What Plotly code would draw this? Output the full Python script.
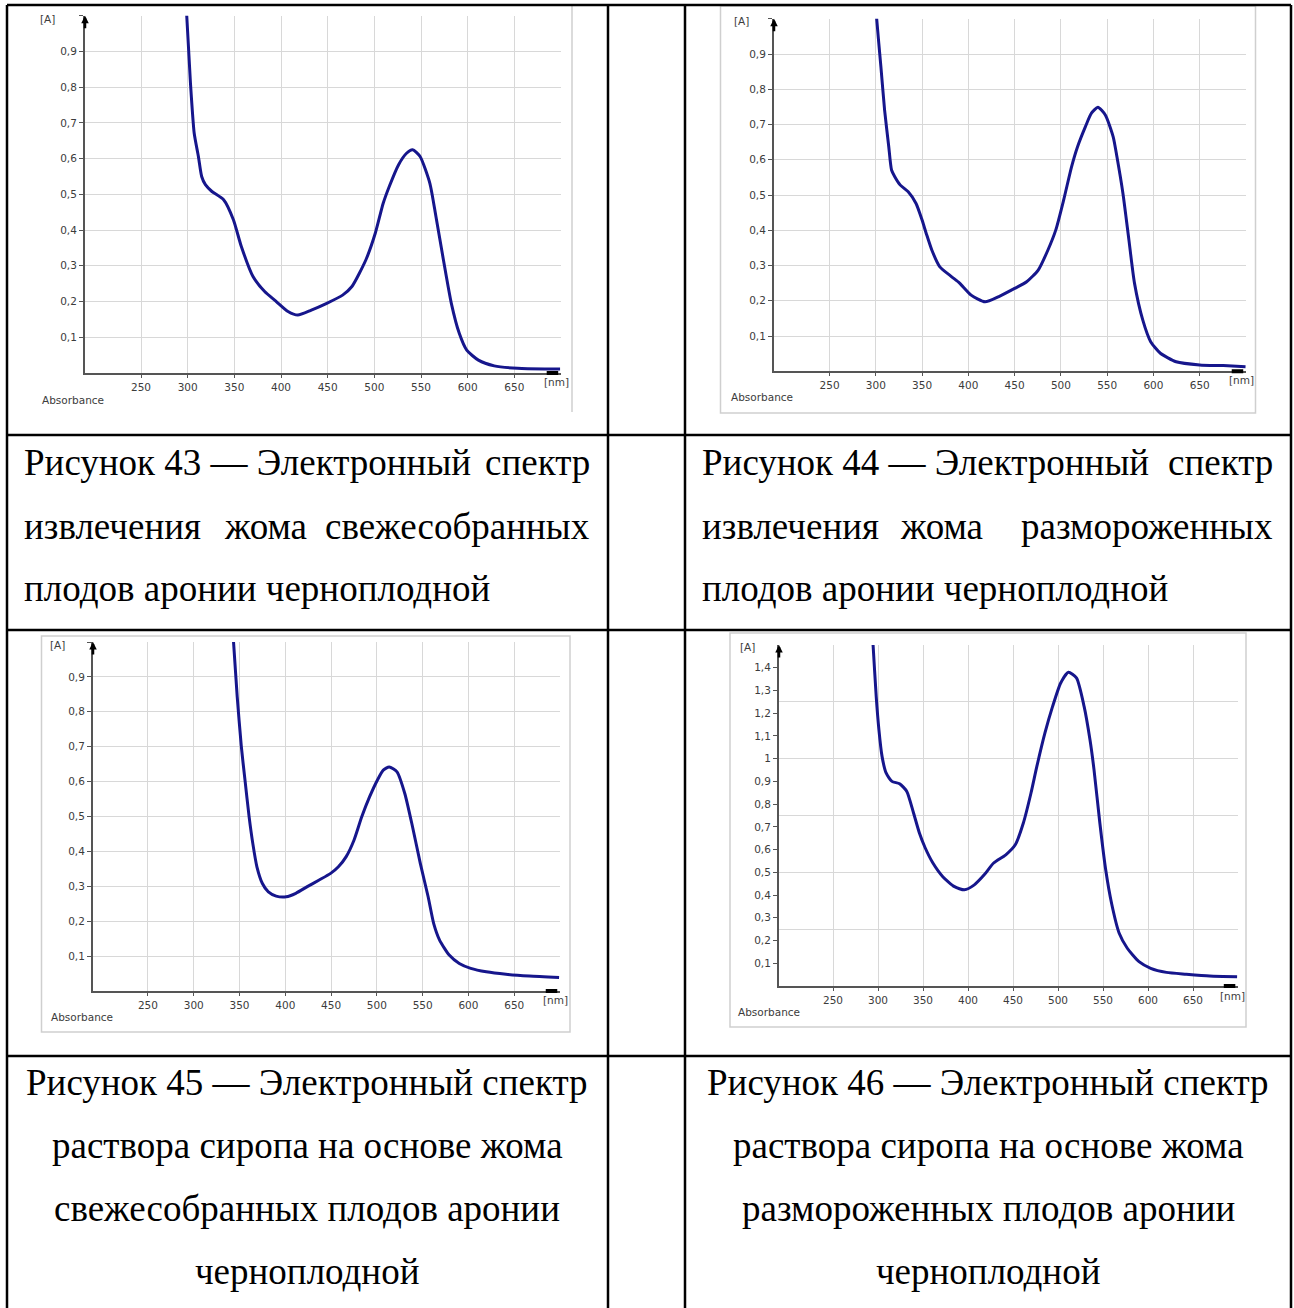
import plotly.graph_objects as go

W, H = 1294, 1308

# ---------------- data ----------------
wl_43 = [296, 299, 303, 307, 311.5, 315, 319, 326, 338.5, 349, 357.5, 370, 382.5, 395, 407.5, 418,
         432.5, 449, 466, 476, 491, 501, 509.5, 516, 526, 534.5, 541, 549, 559.5, 566, 574, 582.5,
         591, 599, 611.5, 628.5, 653.5, 682.5, 699]
abs_43 = [1.1, 1.0, 0.811, 0.671, 0.606, 0.55, 0.527, 0.508, 0.485, 0.429, 0.354, 0.27, 0.228, 0.2,
          0.172, 0.162, 0.176, 0.195, 0.218, 0.242, 0.317, 0.391, 0.475, 0.522, 0.583, 0.615, 0.625,
          0.606, 0.531, 0.438, 0.317, 0.195, 0.111, 0.064, 0.036, 0.02, 0.013, 0.011, 0.011]

wl_44 = [299, 301, 305.5, 309.5, 314, 317, 320.5, 326.5, 335, 343.5, 350, 354.5, 360.5, 369, 382,
         390.5, 403, 418, 433, 450, 463, 475.5, 486, 494.5, 503, 511.5, 518, 526.5, 533, 540, 548,
         556.5, 560.5, 567, 573.5, 579.5, 588.5, 597, 607.5, 624.5, 650, 675.5, 699.5]
abs_44 = [1.08, 0.998, 0.864, 0.741, 0.637, 0.571, 0.552, 0.528, 0.509, 0.476, 0.429, 0.391, 0.344,
          0.297, 0.268, 0.25, 0.216, 0.197, 0.212, 0.235, 0.254, 0.287, 0.344, 0.401, 0.486, 0.58,
          0.637, 0.694, 0.732, 0.749, 0.727, 0.665, 0.609, 0.505, 0.372, 0.25, 0.145, 0.084, 0.051,
          0.027, 0.018, 0.016, 0.013]

wl_45 = [341, 343.5, 347.5, 352, 356, 360.5, 364.5, 369, 375, 381.5, 390, 401, 411.5, 424, 437,
         449.5, 458, 466.5, 475, 483.5, 492, 500.5, 507, 513.5, 522, 530.5, 539, 547.5, 556, 562,
         568.5, 579, 590, 602.5, 619.5, 641, 666.5, 699]
abs_45 = [1.08, 0.999, 0.843, 0.70, 0.604, 0.499, 0.423, 0.356, 0.308, 0.284, 0.272, 0.27, 0.28,
          0.299, 0.318, 0.337, 0.356, 0.385, 0.432, 0.499, 0.556, 0.604, 0.633, 0.642, 0.628, 0.566,
          0.47, 0.365, 0.27, 0.194, 0.146, 0.103, 0.079, 0.065, 0.055, 0.048, 0.043, 0.039]

wl_46 = [293, 294.5, 298, 301, 304.5, 309, 315.5, 324, 332, 339.5, 346, 352.5, 361, 372, 385, 396,
         407, 418, 428.5, 442, 452.5, 461.5, 470, 476.5, 485.5, 494, 503, 511.5, 520.5, 529, 535.5,
         540, 546.5, 553, 559.5, 568, 577, 590, 603, 620.5, 642.5, 668.5, 699]
abs_46 = [1.6, 1.502, 1.274, 1.128, 1.01, 0.937, 0.90, 0.89, 0.856, 0.761, 0.673, 0.607, 0.541,
          0.481, 0.437, 0.423, 0.445, 0.489, 0.541, 0.577, 0.621, 0.717, 0.849, 0.966, 1.113, 1.23,
          1.333, 1.38, 1.355, 1.23, 1.084, 0.952, 0.717, 0.511, 0.364, 0.232, 0.166, 0.107, 0.078,
          0.06, 0.052, 0.044, 0.041]

x_ticks = [250, 300, 350, 400, 450, 500, 550, 600, 650]
x_tick_text = ["250", "300", "350", "400", "450", "500", "550", "600", "650"]
y_ticks = [0.1, 0.2, 0.3, 0.4, 0.5, 0.6, 0.7, 0.8, 0.9, 1.0]
y_tick_text = ["0,1", "0,2", "0,3", "0,4", "0,5", "0,6", "0,7", "0,8", "0,9", ""]
y_ticks_46 = [0.1, 0.2, 0.3, 0.4, 0.5, 0.6, 0.7, 0.8, 0.9, 1.0, 1.1, 1.2, 1.3, 1.4]
y_tick_text_46 = ["0,1", "0,2", "0,3", "0,4", "0,5", "0,6", "0,7", "0,8", "0,9", "1",
                  "1,1", "1,2", "1,3", "1,4"]
y_grid_46 = [0.25, 0.5, 0.75, 1.0, 1.25, 1.5]

captions_row1 = [
    ["Рисунок 43 — Электронный спектр", "извлечения жома свежесобранных", "плодов аронии черноплодной"],
    ["Рисунок 44 — Электронный спектр", "извлечения жома размороженных", "плодов аронии черноплодной"],
]
captions_row2 = [
    ["Рисунок 45 — Электронный спектр", "раствора сиропа на основе жома",
     "свежесобранных плодов аронии", "черноплодной"],
    ["Рисунок 46 — Электронный спектр", "раствора сиропа на основе жома",
     "размороженных плодов аронии", "черноплодной"],
]

# ---------------- helpers ----------------
def fx(p):
    return p / W


def fy(p):
    return 1 - p / H


LINE_COLOR = "#16168c"
AX_COLOR = "#555555"
GRID = "#d8d8d8"
TICK_FONT = dict(family="DejaVu Sans", size=10.5, color="#3c3c3c")
CAP_FONT = dict(family="Liberation Serif", size=37, color="black")

panels = [
    dict(wl=wl_43, a=abs_43, dx=(85, 561), dy=(15.7, 373), ymax=1.0,
         lab_a=(47, 19), lab_nm=(556, 382), lab_abs=(40, 400)),
    dict(wl=wl_44, a=abs_44, dx=(774, 1246), dy=(18.75, 371.25), ymax=1.0,
         lab_a=(741, 21), lab_nm=(1241, 380), lab_abs=(729, 397)),
    dict(wl=wl_45, a=abs_45, dx=(93, 560), dy=(642, 991), ymax=1.0,
         lab_a=(57, 645), lab_nm=(555, 1000), lab_abs=(49, 1017)),
    dict(wl=wl_46, a=abs_46, dx=(779, 1238), dy=(645, 986), ymax=1.5,
         lab_a=(748, 647), lab_nm=(1232, 996), lab_abs=(736, 1012)),
]

fig = go.Figure()
layout = dict(
    width=W, height=H, margin=dict(l=0, r=0, t=0, b=0),
    paper_bgcolor="white", plot_bgcolor="white", showlegend=False,
    separators=", ",
)
annotations = []
shapes = []

for i, p in enumerate(panels, start=1):
    sfx = "" if i == 1 else str(i)
    fig.add_trace(go.Scatter(
        x=p["wl"], y=p["a"], mode="lines",
        line=dict(color=LINE_COLOR, width=3, shape="spline", smoothing=0.6),
        xaxis="x" + sfx, yaxis="y" + sfx, hoverinfo="skip",
    ))
    is46 = (i == 4)
    layout["xaxis" + sfx] = dict(
        domain=[fx(p["dx"][0]), fx(p["dx"][1])], range=[190, 700], anchor="y" + sfx,
        tickmode="array", tickvals=x_ticks, ticktext=x_tick_text,
        showgrid=True, gridcolor=GRID, gridwidth=1, zeroline=False,
        showline=True, linecolor=AX_COLOR, linewidth=2,
        ticks="outside", ticklen=3, tickcolor=AX_COLOR, tickfont=TICK_FONT, fixedrange=True,
    )
    layout["yaxis" + sfx] = dict(
        domain=[fy(p["dy"][1]), fy(p["dy"][0])], range=[0, p["ymax"]], anchor="x" + sfx,
        tickmode="array",
        tickvals=y_ticks_46 if is46 else y_ticks,
        ticktext=y_tick_text_46 if is46 else y_tick_text,
        showgrid=not is46, gridcolor=GRID, gridwidth=1, zeroline=False,
        showline=True, linecolor=AX_COLOR, linewidth=2,
        ticks="outside", ticklen=4, tickcolor=AX_COLOR, tickfont=TICK_FONT, fixedrange=True,
    )
    # axis end markers
    annotations.append(dict(xref="x" + sfx, yref="y" + sfx, x=190, y=p["ymax"], ax=0, ay=14,
                            text="", showarrow=True, arrowhead=2, arrowsize=0.6, arrowwidth=2.5,
                            arrowcolor="black"))
    annotations.append(dict(xref="x" + sfx, yref="y" + sfx, x=697, y=0, ax=-13, ay=0,
                            text="", showarrow=True, arrowhead=0, arrowwidth=4,
                            arrowcolor="black"))
    # labels
    annotations.append(dict(xref="paper", yref="paper", x=fx(p["lab_a"][0]), y=fy(p["lab_a"][1]),
                            text="[A]", showarrow=False, xanchor="center", yanchor="middle",
                            font=TICK_FONT))
    annotations.append(dict(xref="paper", yref="paper", x=fx(p["lab_nm"][0]), y=fy(p["lab_nm"][1]),
                            text="[nm]", showarrow=False, xanchor="center", yanchor="middle",
                            font=TICK_FONT))
    annotations.append(dict(xref="paper", yref="paper", x=fx(p["lab_abs"][0]), y=fy(p["lab_abs"][1]),
                            text="Absorbance", showarrow=False, xanchor="left", yanchor="middle",
                            font=TICK_FONT))

# extra grid axis for figure 46 (gridlines every 0.25)
layout["yaxis5"] = dict(
    overlaying="y4", anchor="x4", range=[0, 1.5], tickmode="array", tickvals=y_grid_46,
    showgrid=True, gridcolor=GRID, gridwidth=1, showticklabels=False, ticks="",
    showline=False, zeroline=False, fixedrange=True,
)
fig.add_trace(go.Scatter(x=[None], y=[None], xaxis="x4", yaxis="y5", mode="lines",
                         hoverinfo="skip", showlegend=False))

# image frames (light grey)
frame_line = dict(color="#cfcfcf", width=1.5)
shapes.append(dict(type="line", xref="paper", yref="paper", x0=fx(572), x1=fx(572),
                   y0=fy(5), y1=fy(412), line=frame_line, layer="below"))
for (x0, y0, x1, y1) in [(720.5, 6, 1255.5, 413), (41.5, 636, 570, 1032), (730, 633, 1246, 1027)]:
    shapes.append(dict(type="rect", xref="paper", yref="paper", x0=fx(x0), x1=fx(x1),
                       y0=fy(y1), y1=fy(y0), line=frame_line, fillcolor="rgba(0,0,0,0)",
                       layer="below"))

# table borders
tb = dict(color="black", width=2.5)
for yy in [5, 435, 630, 1056]:
    shapes.append(dict(type="line", xref="paper", yref="paper", x0=fx(7), x1=fx(1291),
                       y0=fy(yy), y1=fy(yy), line=tb))
for xx in [7, 608, 685, 1291]:
    shapes.append(dict(type="line", xref="paper", yref="paper", x0=fx(xx), x1=fx(xx),
                       y0=fy(5), y1=fy(1310), line=tb))


def cap(text, x, y, anchor):
    annotations.append(dict(xref="paper", yref="paper", x=fx(x), y=fy(y), text=text,
                            showarrow=False, xanchor=anchor, yanchor="middle", font=CAP_FONT))


# Row 1 captions (justified)
row1_y = [463, 526, 589]
cells1 = [(22, 592, 265), (700, 1275, 941)]
for (lines, (xl, xr, xmid)) in zip(captions_row1, cells1):
    w1 = lines[0].rsplit(" ", 1)
    cap(w1[0], xl, row1_y[0], "left")
    cap(w1[1], xr, row1_y[0], "right")
    w2 = lines[1].split(" ")
    cap(w2[0], xl, row1_y[1], "left")
    cap(w2[1], xmid, row1_y[1], "center")
    cap(w2[2], xr, row1_y[1], "right")
    cap(lines[2], xl, row1_y[2], "left")

# Row 2 captions (centered)
row2_y = [1082, 1145, 1208, 1271]
for (lines, xc) in zip(captions_row2, [307, 988]):
    for t, yy in zip(lines, row2_y):
        cap(t, xc, yy, "center")

layout["annotations"] = annotations
layout["shapes"] = shapes
fig.update_layout(**layout)

fig.write_html("out.html", config={"displayModeBar": False, "staticPlot": True},
               post_script="document.body.style.margin='0';document.body.style.overflow='hidden';")
